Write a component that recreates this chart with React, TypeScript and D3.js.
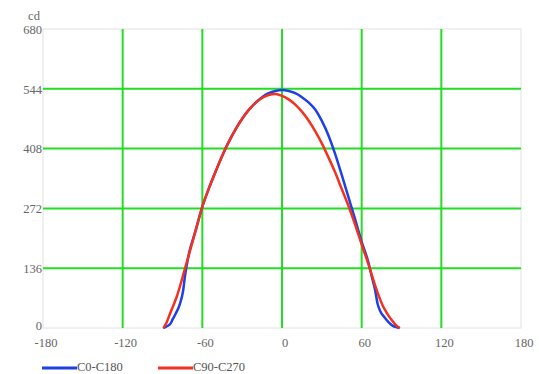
import React from "react";
import * as d3 from "d3";

const xTicks = [-180, -120, -60, 0, 60, 120, 180];
const yTicks = [0, 136, 272, 408, 544, 680];

const blueAngles = [-89.5, -88, -86, -84, -82, -80, -77, -74.5, -73, -71, -70, -65, -60, -55, -50, -45, -40, -35, -30, -25, -20, -15, -10, -5, 0, 5, 10, 15, 20, 25, 30, 35, 40, 45, 50, 55, 60, 65, 68, 70, 72, 74, 77, 80, 83, 86, 88.5];
const blueValues = [0, 2, 5, 10, 22, 33, 54, 84, 120, 155, 170, 222, 276, 318, 356, 392, 424, 452, 476, 496, 512, 525, 534, 539, 541, 539, 534, 525, 513, 497, 471, 438, 396, 348, 298, 248, 196, 150, 112, 88, 55, 38, 25, 14, 6, 2, 0];

const redAngles = [-89.3, -87, -84.3, -82, -79.3, -75.5, -73, -70, -65, -60, -55, -50, -45, -40, -35, -30, -25, -20, -15, -10, -5, 0, 5, 10, 15, 20, 25, 30, 35, 40, 45, 50, 55, 60, 65, 70, 73, 76, 79, 82.6, 86, 88.8];
const redValues = [0, 12, 33, 50, 71, 109, 136, 168, 222, 276, 318, 356, 392, 424, 452, 476, 496, 512, 523, 530, 532, 528, 520, 508, 492, 472, 448, 420, 388, 354, 316, 278, 236, 190, 146, 98, 72, 50, 34, 18, 6, 0];

const seriesNames = ["C0-C180", "C90-C270"];
const seriesColors = ["#1f3fe8", "#f2321e"];

export default function App() {
  const W = 539, H = 374;
  const left = 43, right = 521, top = 29, bottom = 328;
  const x = d3.scaleLinear().domain([-180, 180]).range([left, right]);
  const y = d3.scaleLinear().domain([0, 680]).range([bottom, top]);
  const line = d3
    .line<[number, number]>()
    .x((d) => x(d[0]))
    .y((d) => y(d[1]))
    .curve(d3.curveMonotoneX);
  const series = [
    blueAngles.map((a, i) => [a, blueValues[i]] as [number, number]),
    redAngles.map((a, i) => [a, redValues[i]] as [number, number]),
  ];
  const textStyle = { fontFamily: '"Liberation Serif", "Times New Roman", serif', fontSize: "12.5px" };
  const grid = "#22dd22";
  return (
    <svg width={W} height={H} style={{ position: "absolute", left: 0, top: 0, background: "#fff" }}>
      <rect x={left} y={top} width={right - left} height={bottom - top} fill="none" stroke="#e2e2e2" strokeWidth={1} />
      {xTicks.filter((t) => t !== -180 && t !== 180).map((t) => (
        <line key={"gx" + t} x1={x(t)} x2={x(t)} y1={top} y2={bottom} stroke={grid} strokeWidth={2} />
      ))}
      {yTicks.filter((t) => t !== 0 && t !== 680).map((t) => (
        <line key={"gy" + t} x1={left} x2={right} y1={y(t)} y2={y(t)} stroke={grid} strokeWidth={2} />
      ))}
      {series.map((s, i) => (
        <path key={"s" + i} d={line(s) || ""} fill="none" stroke={seriesColors[i]} strokeWidth={2.5} strokeLinejoin="round" />
      ))}
      {yTicks.map((t) => (
        <text key={"yl" + t} x={left - 1} y={t === 0 ? y(t) - 1 : y(t) + 2} textAnchor="end" dominantBaseline="middle" style={textStyle} fill="#666">
          {t}
        </text>
      ))}
      <text x={34} y={17} textAnchor="middle" dominantBaseline="middle" style={textStyle} fill="#666">cd</text>
      {xTicks.map((t) => (
        <text key={"xl" + t} x={x(t) + 3} y={344} textAnchor="middle" dominantBaseline="middle" style={textStyle} fill="#666">
          {t}
        </text>
      ))}
      {seriesNames.map((n, i) => {
        const lx = i === 0 ? 42 : 158;
        return (
          <g key={"lg" + i}>
            <line x1={lx} x2={lx + 35} y1={368} y2={368} stroke={seriesColors[i]} strokeWidth={3} />
            <text x={lx + 35} y={368} dominantBaseline="middle" style={textStyle} fill="#555">{n}</text>
          </g>
        );
      })}
    </svg>
  );
}
